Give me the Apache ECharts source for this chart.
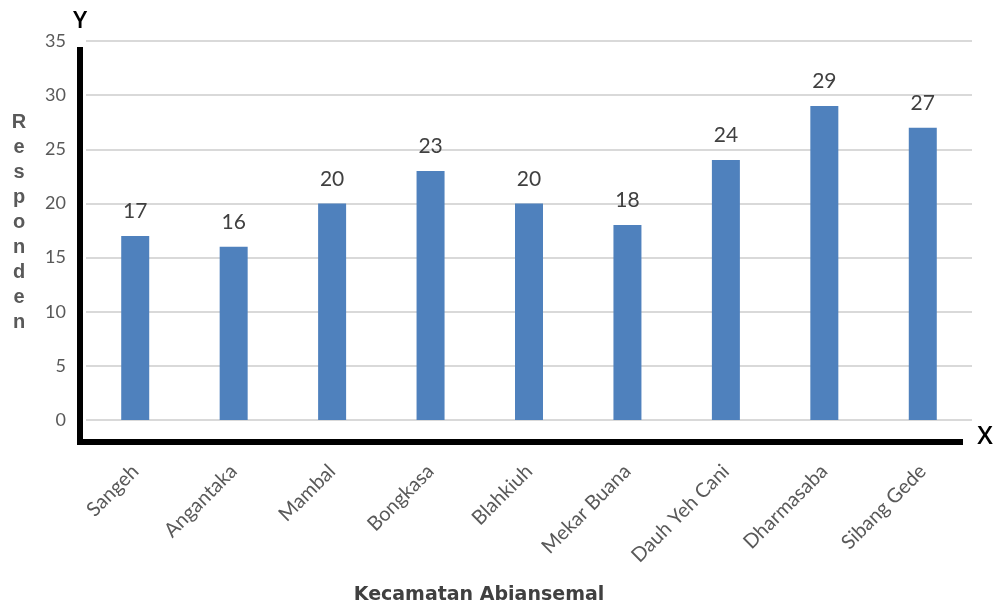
<!DOCTYPE html>
<html>
<head>
<meta charset="utf-8">
<script src="https://cdn.jsdelivr.net/npm/echarts@6/dist/echarts.min.js"></script>
<style>
  html, body { margin: 0; padding: 0; background: #fff; }
  #chart { width: 997px; height: 608px; }
</style>
</head>
<body>
<div id="chart"></div>
<script>
// data
const kecamatan = ['Sangeh', 'Angantaka', 'Mambal', 'Bongkasa', 'Blahkiuh', 'Mekar Buana', 'Dauh Yeh Cani', 'Dharmasaba', 'Sibang Gede'];
const responden = [17, 16, 20, 23, 20, 18, 24, 29, 27];
const yTicks = [0, 5, 10, 15, 20, 25, 30, 35];

const yTitle = 'Responden';
const xTitle = 'Kecamatan Abiansemal';

const chart = echarts.init(document.getElementById('chart'));

const option = {
  animation: false,
  grid: { left: 86, right: 25, top: 41, bottom: 188 },
  xAxis: {
    type: 'category',
    data: kecamatan,
    axisLine: { show: false },
    axisTick: { show: false },
    axisLabel: {
      interval: 0,
      rotate: 45,
      margin: 48,
      color: '#595959',
      fontFamily: 'Lato',
      fontSize: 20
    }
  },
  yAxis: {
    type: 'value',
    min: yTicks[0],
    max: yTicks[yTicks.length - 1],
    interval: 5,
    axisLine: { show: false },
    axisTick: { show: false },
    axisLabel: {
      margin: 20,
      color: '#595959',
      fontFamily: 'Lato',
      fontSize: 18
    },
    splitLine: { lineStyle: { color: '#D9D9D9', width: 2 } }
  },
  series: [{
    type: 'bar',
    data: responden,
    barWidth: 28,
    itemStyle: { color: '#4F81BD' },
    label: {
      show: true,
      position: 'top',
      distance: 14,
      color: '#404040',
      fontFamily: 'Lato',
      fontSize: 21
    }
  }],
  graphic: [
    // thick black axes
    { type: 'line', shape: { x1: 80, y1: 47, x2: 80, y2: 445 }, style: { stroke: '#000', lineWidth: 6 } },
    { type: 'line', shape: { x1: 77, y1: 442, x2: 963, y2: 442 }, style: { stroke: '#000', lineWidth: 6 } },
    { type: 'text', x: 80, y: 21, style: { text: 'Y', font: '600 24px "Open Sans"', fill: '#000', textAlign: 'center', textVerticalAlign: 'middle' } },
    { type: 'text', x: 985, y: 437, style: { text: 'X', font: '600 25px "Open Sans"', fill: '#000', textAlign: 'center', textVerticalAlign: 'middle' } },
    // axis titles
    { type: 'text', x: 19, y: 110, style: { text: yTitle.split('').join('\n'), font: 'bold 20px "Liberation Sans"', lineHeight: 25, fill: '#595959', textAlign: 'center', textVerticalAlign: 'top' } },
    { type: 'text', x: 479, y: 595, style: { text: xTitle, font: 'bold 19px "DejaVu Sans"', fill: '#404040', textAlign: 'center', textVerticalAlign: 'middle' } }
  ]
};

chart.setOption(option);
</script>
</body>
</html>
